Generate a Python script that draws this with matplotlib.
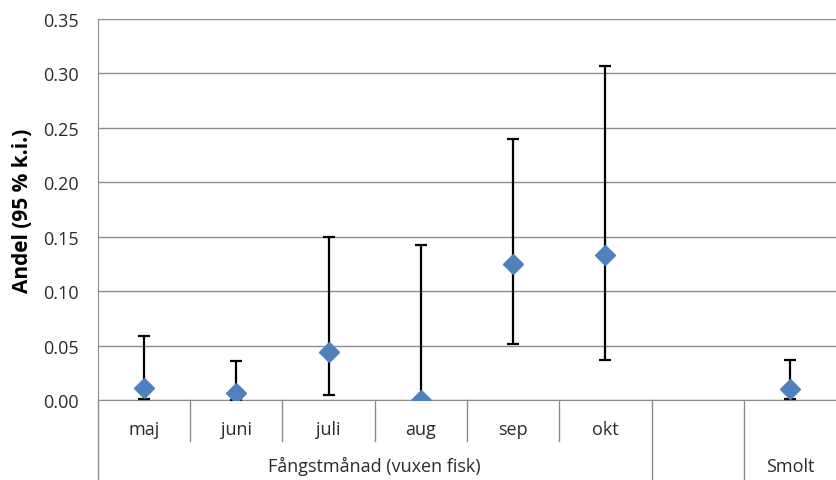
import numpy as np
import matplotlib.pyplot as plt
import matplotlib.transforms as mtransforms

plt.rcParams['font.family'] = ['Open Sans', 'DejaVu Sans']

# data
categories = ['maj', 'juni', 'juli', 'aug', 'sep', 'okt', '', 'Smolt']
month_labels = ['maj', 'juni', 'juli', 'aug', 'sep', 'okt', '', '']
andel = [0.011, 0.006, 0.044, 0.0, 0.125, 0.133, np.nan, 0.010]
lower = [0.001, 0.0, 0.005, 0.0, 0.051, 0.037, np.nan, 0.001]
upper = [0.059, 0.036, 0.150, 0.142, 0.240, 0.307, np.nan, 0.037]
groups = [('Fångstmånad (vuxen fisk)', 0, 5), ('', 6, 6), ('Smolt', 7, 7)]
yticks = [0.0, 0.05, 0.10, 0.15, 0.20, 0.25, 0.30, 0.35]

x = np.arange(len(categories))
andel = np.array(andel)
err = np.array([andel - np.array(lower), np.array(upper) - andel])

fig = plt.figure(figsize=(8.37, 4.81), dpi=100)
ax = fig.add_axes([0.117, 0.1663, 0.882, 0.7921])

gridc = '#8c8c8c'
txtc = '#2b2b2b'
ax.errorbar(x, andel, yerr=err, fmt='none', ecolor='black', elinewidth=1.6,
            capsize=4, capthick=1.6, zorder=3)
ax.plot(x, andel, 'D', color='#4F81BD', markersize=10, zorder=4)

ax.set_xlim(-0.5, len(categories) - 0.5)
ax.set_ylim(0, 0.35)
ax.set_yticks(yticks)
ax.set_yticklabels([f'{v:.2f}' for v in yticks], fontsize=13, color=txtc)
ax.yaxis.grid(True, color=gridc, linewidth=1)
ax.set_axisbelow(True)
ax.tick_params(axis='y', length=0, pad=14)
ax.set_xticks([])
for s in ['top', 'right']:
    ax.spines[s].set_visible(False)
ax.spines['left'].set_color(gridc)
ax.spines['bottom'].set_color(gridc)
ax.set_ylabel('Andel (95 % k.i.)', fontsize=15, fontweight='bold')
ax.yaxis.set_label_coords(-0.088, 0.5)

# category table below the axis
trans = mtransforms.blended_transform_factory(ax.transData, ax.transAxes)
row1 = -0.076
row2 = -0.173
bottom = -0.21
ax.plot([-0.5, -0.5], [0, bottom], transform=trans, color=gridc, lw=1, clip_on=False)
for i, c in enumerate(month_labels):
    ax.text(i, row1, c, transform=trans, ha='center', va='center', fontsize=13,
            color=txtc)
group_ends = [g[2] for g in groups]
for i in range(len(categories) - 1):
    y0 = bottom if i in group_ends else -0.108
    ax.plot([i + 0.5, i + 0.5], [0, y0], transform=trans, color=gridc, lw=1,
            clip_on=False)
for name, a, b in groups:
    ax.text((a + b) / 2, row2, name, transform=trans, ha='center', va='center',
            fontsize=13, color=txtc)

fig.savefig('out.png', dpi=100)
